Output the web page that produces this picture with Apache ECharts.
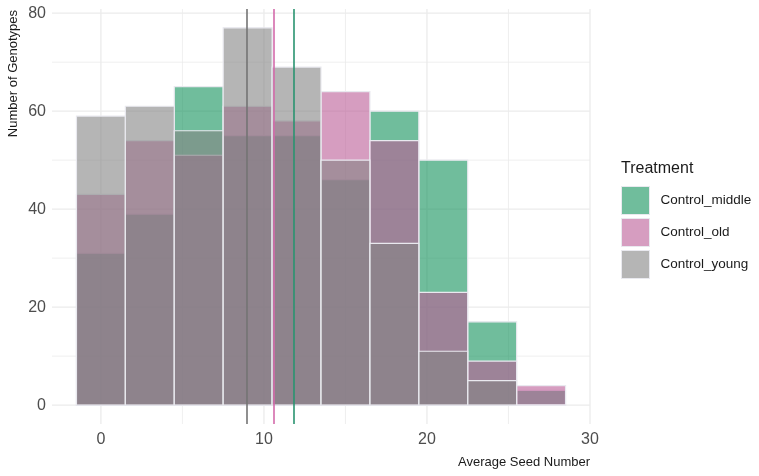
<!DOCTYPE html>
<html><head><meta charset="utf-8">
<script src="https://cdn.jsdelivr.net/npm/echarts@6/dist/echarts.min.js"></script>
<style>html,body{margin:0;padding:0;background:#fff}#c{width:759px;height:476px}</style>
</head><body><div id="c"></div>
<script>
// ---- data ----
const seriesNames = ['Control_middle', 'Control_old', 'Control_young'];
const binEdges = [-1.5, 1.5, 4.5, 7.5, 10.5, 13.5, 16.5, 19.5, 22.5, 25.5, 28.5];
const middleCounts = [31, 39, 65, 55, 55, 46, 60, 50, 17, 3];
const oldCounts    = [43, 54, 51, 61, 58, 64, 54, 23, 9, 4];
const youngCounts  = [59, 61, 56, 77, 69, 50, 33, 11, 5, 0];
const meanValues = [11.85, 10.6, 8.93];
const xTicks = [0, 10, 20, 30];
const yTicks = [0, 20, 40, 60, 80];
const xGridMajor = [0, 10, 20, 30];
const xGridMinor = [5, 15, 25];
const yGridMajor = [0, 20, 40, 60, 80];
const yGridMinor = [10, 30, 50, 70];
const xTitle = 'Average Seed Number';
const yTitle = 'Number of Genotypes';
const legendTitle = 'Treatment';

// ---- styles ----
const FONT = 'Liberation Sans, Arial, Helvetica, sans-serif';
const fills = ['rgba(17,145,90,0.6)', 'rgba(187,92,150,0.6)', 'rgba(132,132,132,0.6)'];
const meanColors = ['#2a9470', '#d46bab', '#747474'];
const allCounts = [middleCounts, oldCounts, youngCounts];

function barData(counts) {
  return counts.map((c, i) => [binEdges[i], binEdges[i + 1], c]);
}

const barSeries = seriesNames.map((name, si) => ({
  name: name,
  type: 'custom',
  z: 2,
  itemStyle: { color: fills[si], borderColor: '#e9e9ef', borderWidth: 1.2 },
  encode: { x: [0, 1], y: 2 },
  data: barData(allCounts[si]),
  renderItem: function (params, api) {
    const p0 = api.coord([api.value(0), api.value(2)]);
    const p1 = api.coord([api.value(1), 0]);
    return {
      type: 'rect',
      shape: { x: p0[0], y: p0[1], width: p1[0] - p0[0], height: p1[1] - p0[1] },
      style: { fill: fills[si], stroke: '#e9e9ef', lineWidth: 1.2 }
    };
  },
  markLine: {
    silent: true, symbol: 'none', animation: false,
    label: { show: false },
    lineStyle: { color: meanColors[si], width: 1.6, type: 'solid' },
    data: [{ xAxis: meanValues[si] }]
  }
}));

const gridData = []
  .concat(xGridMajor.map(v => [v, 0, 1]))
  .concat(xGridMinor.map(v => [v, 0, 0]))
  .concat(yGridMajor.map(v => [v, 1, 1]))
  .concat(yGridMinor.map(v => [v, 1, 0]));

const gridSeries = {
  name: 'grid', type: 'custom', z: 0, silent: true,
  encode: { x: 0 },
  data: gridData,
  renderItem: function (params, api) {
    const cs = params.coordSys;
    const v = api.value(0), vert = api.value(1) === 0, major = api.value(2) === 1;
    let shape;
    if (vert) {
      const x = api.coord([v, 0])[0];
      shape = { x1: x, y1: cs.y, x2: x, y2: cs.y + cs.height };
    } else {
      const y = api.coord([0, v])[1];
      shape = { x1: cs.x, y1: y, x2: cs.x + cs.width, y2: y };
    }
    return { type: 'line', shape: shape, style: { stroke: '#ebebeb', lineWidth: major ? 1.3 : 0.8 } };
  }
};

const chart = echarts.init(document.getElementById('c'), null, { renderer: 'canvas' });
chart.setOption({
  animation: false,
  backgroundColor: '#fff',
  grid: { left: 52, right: 169, top: 9, bottom: 52 },
  xAxis: {
    type: 'value', min: -3, max: 30,
    axisLine: { show: false }, axisTick: { show: false }, splitLine: { show: false },
    axisLabel: { customValues: xTicks, fontSize: 16, color: '#4d4d4d', fontFamily: FONT, margin: 8 }
  },
  yAxis: {
    type: 'value', min: -3.85, max: 80.85,
    axisLine: { show: false }, axisTick: { show: false }, splitLine: { show: false },
    axisLabel: { customValues: yTicks, fontSize: 16, color: '#4d4d4d', fontFamily: FONT, margin: 6 }
  },
  legend: {
    data: seriesNames, orient: 'vertical', left: 616, top: 181,
    itemWidth: 28, itemHeight: 28, itemGap: 3, icon: 'rect',
    itemStyle: { borderColor: '#e9e9ef', borderWidth: 1 },
    textStyle: { fontSize: 13.5, color: '#1a1a1a', fontFamily: FONT, padding: [0, 0, 0, 6] }
  },
  graphic: [
    { type: 'text', x: 590, y: 462, style: { text: xTitle, align: 'right', verticalAlign: 'middle', fontSize: 13, fontFamily: FONT, fill: '#1a1a1a' } },
    { type: 'text', x: 13, y: 10, rotation: Math.PI / 2, style: { text: yTitle, align: 'right', verticalAlign: 'middle', fontSize: 13, fontFamily: FONT, fill: '#1a1a1a' } },
    { type: 'text', x: 621, y: 169, style: { text: legendTitle, align: 'left', verticalAlign: 'middle', fontSize: 16, fontFamily: FONT, fill: '#1a1a1a' } }
  ],
  series: [gridSeries].concat(barSeries)
});
</script></body></html>
